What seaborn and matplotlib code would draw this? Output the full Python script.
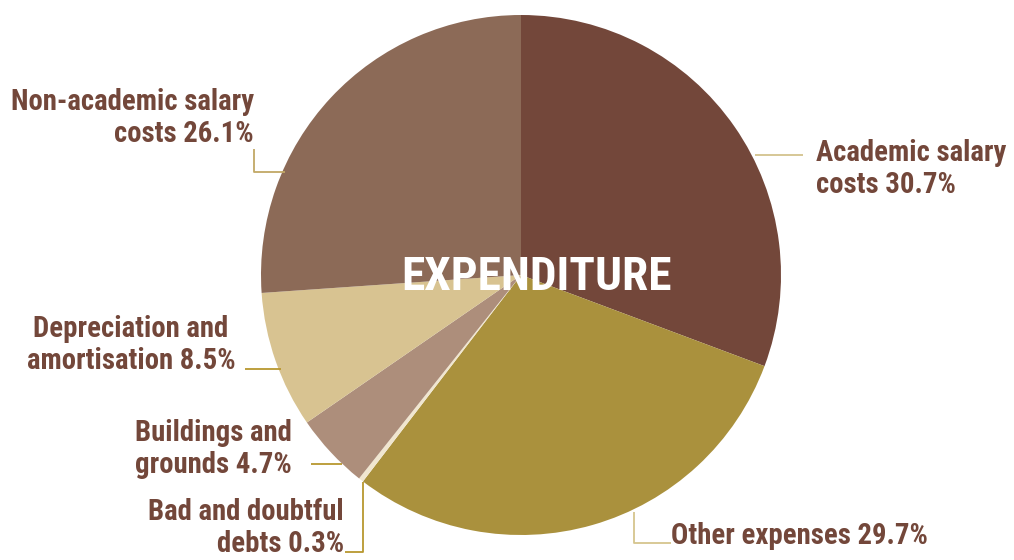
import matplotlib
matplotlib.use("Agg")
import matplotlib.pyplot as plt
import seaborn as sns

sns.set_theme(style="white")
plt.rcParams["font.family"] = ["Roboto Condensed", "DejaVu Sans"]

# Expenditure breakdown (percent of total), clockwise from 12 o'clock
categories = [
    "Academic salary costs",
    "Other expenses",
    "Bad and doubtful debts",
    "Buildings and grounds",
    "Depreciation and amortisation",
    "Non-academic salary costs",
]
shares = [30.7, 29.7, 0.3, 4.7, 8.5, 26.1]
label_lines = [
    ("Academic salary", "costs 30.7%"),
    ("Other expenses 29.7%",),
    ("Bad and doubtful", "debts 0.3%"),
    ("Buildings and", "grounds 4.7%"),
    ("Depreciation and", "amortisation 8.5%"),
    ("Non-academic salary", "costs 26.1%"),
]
slice_colors = ["#73473A", "#AA913D", "#F0E6D0", "#AD8E7B", "#D8C391", "#8C6A57"]
text_color = "#73473A"

W, H = 1014, 560
fig = plt.figure(figsize=(W / 100, H / 100), dpi=100)
ax = fig.add_axes([0, 0, 1, 1])

cx, cy, r = 521, H - 275, 260
ax.pie(shares, colors=slice_colors, startangle=90, counterclock=False,
       center=(cx, cy), radius=r, frame=True,
       wedgeprops=dict(linewidth=0))
ax.set_xlim(0, W)
ax.set_ylim(0, H)
ax.set_aspect("equal")
ax.axis("off")


def Y(y):
    return H - y


fs = 20.7
lbl = dict(color=text_color, fontsize=fs, fontweight="bold", va="center",
           linespacing=1.2)

# leader lines (pixel positions, y measured from the top edge)
leaders = [
    ([755, 803], [155, 155], "#D3C38E"),
    ([634, 634, 671], [512, 543, 543], "#D6C58E"),
    ([345, 363, 363], [552, 552, 482], "#B8972F"),
    ([311, 342], [464, 464], "#B8972F"),
    ([245, 281], [369, 369], "#B8972F"),
    ([254, 254, 285], [149, 172, 172], "#C2A866"),
]
for xs, ys, c in leaders:
    ax.plot(xs, [Y(v) for v in ys], color=c, lw=1.3, solid_capstyle="butt")

ax.text(816, Y(169), "\n".join(label_lines[0]), ha="left", **lbl)
ax.text(671, Y(536), "\n".join(label_lines[1]), ha="left", **lbl)
ax.text(344, Y(528), "\n".join(label_lines[2]), ha="right", multialignment="right", **lbl)
ax.text(135, Y(449), "\n".join(label_lines[3]), ha="left", multialignment="left", **lbl)
ax.text(131, Y(345), "\n".join(label_lines[4]), ha="center", multialignment="center", **lbl)
ax.text(254, Y(118), "\n".join(label_lines[5]), ha="right", multialignment="right", **lbl)

ax.text(536, Y(277), "EXPENDITURE", color="white", fontsize=34,
        fontweight="bold", ha="center", va="center")

fig.savefig("out.png", dpi=100, facecolor="white")
